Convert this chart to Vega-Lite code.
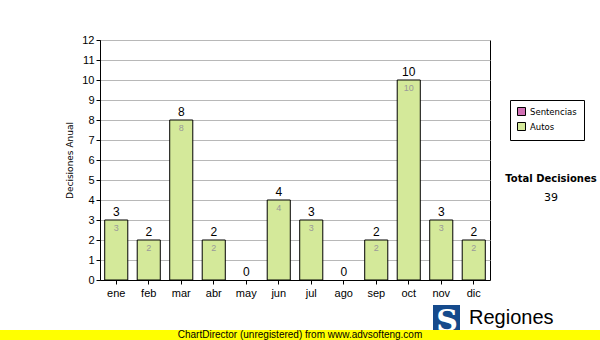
{
  "$schema": "https://vega.github.io/schema/vega-lite/v6.json",
  "width": 390,
  "height": 240,
  "autosize": {"type": "none"},
  "padding": {"left": 100, "top": 40, "right": 110, "bottom": 60},
  "background": "white",
  "title": {
    "text": "Total Decisiones",
    "subtitle": "39",
    "orient": "top",
    "anchor": "end",
    "frame": "group",
    "align": "center",
    "dx": 61,
    "dy": 173,
    "font": "DejaVu Sans",
    "fontSize": 10,
    "fontWeight": "bold",
    "color": "black",
    "subtitleFont": "DejaVu Sans",
    "subtitleFontSize": 11,
    "subtitleColor": "black",
    "subtitlePadding": 8
  },
  "config": {
    "font": "Liberation Sans",
    "view": {"stroke": "black", "strokeWidth": 1},
    "axis": {
      "domainColor": "black",
      "tickColor": "black",
      "labelColor": "black",
      "labelFont": "Liberation Sans",
      "labelFontSize": 11,
      "tickSize": 4
    }
  },
  "datasets": {
    "bars": [
      {"mes": "ene", "tipo": "Autos", "valor": 3},
      {"mes": "feb", "tipo": "Autos", "valor": 2},
      {"mes": "mar", "tipo": "Autos", "valor": 8},
      {"mes": "abr", "tipo": "Autos", "valor": 2},
      {"mes": "may", "tipo": "Autos", "valor": 0},
      {"mes": "jun", "tipo": "Autos", "valor": 4},
      {"mes": "jul", "tipo": "Autos", "valor": 3},
      {"mes": "ago", "tipo": "Autos", "valor": 0},
      {"mes": "sep", "tipo": "Autos", "valor": 2},
      {"mes": "oct", "tipo": "Autos", "valor": 10},
      {"mes": "nov", "tipo": "Autos", "valor": 3},
      {"mes": "dic", "tipo": "Autos", "valor": 2}
    ],
    "footer": [
      {"texto": "ChartDirector (unregistered) from www.advsofteng.com"}
    ],
    "logo": [
      {"texto": "Regiones", "sigla": "S"}
    ]
  },
  "data": {"name": "bars"},
  "encoding": {
    "x": {
      "field": "mes",
      "type": "nominal",
      "sort": null,
      "scale": {"domain": ["ene", "feb", "mar", "abr", "may", "jun", "jul", "ago", "sep", "oct", "nov", "dic"], "paddingInner": 0.29, "paddingOuter": 0.145},
      "axis": {"title": null, "labelAngle": 0, "labelPadding": 3, "domain": true, "ticks": true}
    },
    "y": {
      "field": "valor",
      "type": "quantitative",
      "scale": {"domain": [0, 12], "nice": false},
      "axis": {
        "title": "Decisiones Anual",
        "titleFont": "DejaVu Sans",
        "titleFontSize": 9,
        "titleFontWeight": "normal",
        "titleColor": "#000000",
        "titlePadding": 7,
        "values": [0, 1, 2, 3, 4, 5, 6, 7, 8, 9, 10, 11, 12],
        "labelOverlap": false,
        "grid": true,
        "gridColor": "#b8b8b8",
        "gridWidth": 1
      }
    }
  },
  "layer": [
    {
      "transform": [{"filter": "datum.valor > 0"}],
      "mark": {"type": "bar", "stroke": "black", "strokeWidth": 1},
      "encoding": {
        "color": {
          "field": "tipo",
          "type": "nominal",
          "scale": {"domain": ["Sentencias", "Autos"], "range": ["#d070b4", "#d4e99a"]},
          "legend": {
            "orient": "none",
            "legendX": 410,
            "legendY": 60,
            "title": null,
            "strokeColor": "black",
            "fillColor": "white",
            "padding": 7,
            "symbolType": "square",
            "symbolStrokeColor": "black",
            "symbolStrokeWidth": 1,
            "symbolSize": 64,
            "symbolOpacity": 1,
            "labelFont": "DejaVu Sans",
            "labelFontSize": 8.5,
            "labelColor": "black",
            "rowPadding": 2
          }
        }
      }
    },
    {
      "mark": {"type": "text", "baseline": "bottom", "dy": -1, "fontSize": 12, "color": "black"},
      "encoding": {
        "text": {"field": "valor", "type": "quantitative"}
      }
    },
    {
      "transform": [{"filter": "datum.valor > 0"}],
      "mark": {"type": "text", "baseline": "top", "dy": 4, "fontSize": 9, "color": "#999999"},
      "encoding": {
        "text": {"field": "valor", "type": "quantitative"}
      }
    },
    {
      "data": {"name": "logo"},
      "mark": {"type": "rect", "color": "#154a8c", "x": 333, "x2": 360, "y": 265, "y2": 300, "clip": false},
      "encoding": {"x": null, "y": null}
    },
    {
      "data": {"name": "logo"},
      "mark": {"type": "text", "x": 347, "y": 282, "align": "center", "baseline": "middle", "font": "DejaVu Serif", "fontWeight": "bold", "fontSize": 30, "color": "white", "clip": false},
      "encoding": {"x": null, "y": null, "text": {"field": "sigla"}}
    },
    {
      "data": {"name": "logo"},
      "mark": {"type": "text", "x": 369, "y": 284, "align": "left", "baseline": "alphabetic", "font": "Liberation Sans", "fontSize": 20, "color": "black", "clip": false},
      "encoding": {"x": null, "y": null, "text": {"field": "texto"}}
    },
    {
      "data": {"name": "footer"},
      "mark": {"type": "rect", "color": "#ffff00", "x": -100, "x2": 500, "y": 290, "y2": 300, "clip": false},
      "encoding": {"x": null, "y": null}
    },
    {
      "data": {"name": "footer"},
      "mark": {"type": "text", "x": 200, "y": 295, "align": "center", "baseline": "middle", "font": "Liberation Sans", "fontSize": 10, "color": "black", "clip": false},
      "encoding": {"x": null, "y": null, "text": {"field": "texto"}}
    }
  ]
}
